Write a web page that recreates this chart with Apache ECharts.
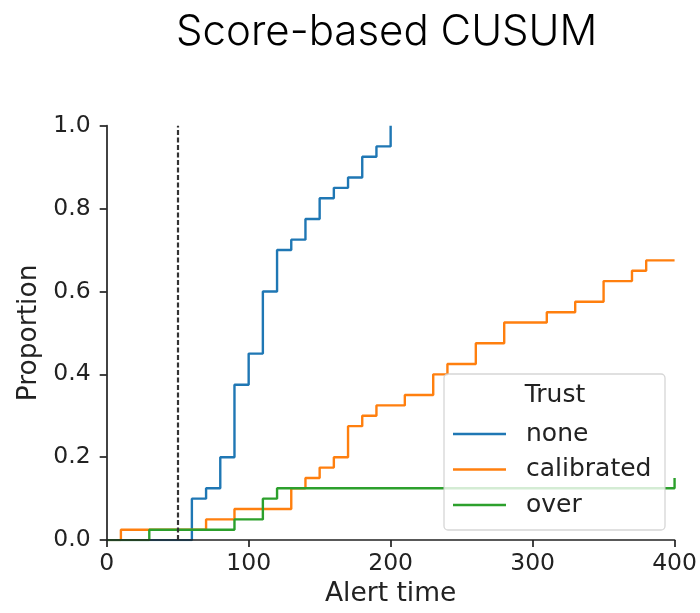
<!DOCTYPE html>
<html>
<head>
<meta charset="utf-8">
<script src="https://cdn.jsdelivr.net/npm/echarts@6/dist/echarts.min.js"></script>
<style>
  html, body { margin: 0; padding: 0; background: #ffffff; }
  #chart { width: 700px; height: 613px; }
</style>
</head>
<body>
<div id="chart"></div>
<script>
// ECDF of alert times per trust condition (step points: time, cumulative proportion)
const noneTimes = [60, 70, 80, 90, 100, 110, 120, 130, 140, 150, 160, 170, 180, 190, 200];
const noneProp  = [0.1, 0.125, 0.2, 0.375, 0.45, 0.6, 0.7, 0.725, 0.775, 0.825, 0.85, 0.875, 0.925, 0.95, 1.0];

const calibratedTimes = [10, 70, 90, 130, 140, 150, 160, 170, 180, 190, 210, 230, 240, 260, 280, 310, 330, 350, 370, 380, 400];
const calibratedProp  = [0.025, 0.05, 0.075, 0.125, 0.15, 0.175, 0.2, 0.275, 0.3, 0.325, 0.35, 0.4, 0.425, 0.475, 0.525, 0.55, 0.575, 0.625, 0.65, 0.675, 0.675];

const overTimes = [30, 90, 110, 120, 400];
const overProp  = [0.025, 0.05, 0.1, 0.125, 0.15];

const changePoint = 50;            // dashed reference line
const xTicks = [0, 100, 200, 300, 400];
const yTicks = [0.0, 0.2, 0.4, 0.6, 0.8, 1.0];

const seriesNames = ['none', 'calibrated', 'over'];
const colors = ['#1f77b4', '#ff7f0e', '#2ca02c'];

// ECDF starts at zero from the left edge of the axis
function ecdf(times, props) {
  const pts = [[xTicks[0], 0]];
  for (let i = 0; i < times.length; i++) pts.push([times[i], props[i]]);
  return pts;
}

const tickFont = 'DejaVu Sans';
const ink = '#222222';

const chart = echarts.init(document.getElementById('chart'), null, { renderer: 'canvas' });

const makeSeries = (name, data, color, extra) => Object.assign({
  name: name,
  type: 'line',
  step: 'end',
  data: data,
  showSymbol: false,
  symbol: 'none',
  color: color,
  lineStyle: { color: color, width: 2.4 },
  z: 2,
  animation: false
}, extra || {});

chart.setOption({
  animation: false,
  title: {
    text: 'Score-based CUSUM',
    left: 176,
    top: 11,
    padding: 0,
    textStyle: { fontFamily: 'Inter', fontWeight: 300, fontSize: 42, color: '#000000' }
  },
  grid: { left: 106.7, right: 23.3, top: 125.7, bottom: 69.7, containLabel: false },
  xAxis: {
    type: 'value',
    min: xTicks[0],
    max: xTicks[xTicks.length - 1],
    interval: 100,
    z: 5,
    name: 'Alert time',
    nameLocation: 'middle',
    nameGap: 40,
    nameTextStyle: { fontFamily: tickFont, fontSize: 26.5, color: ink },
    axisLine: { show: true, onZero: false, lineStyle: { color: ink, width: 1.7 } },
    axisTick: { show: true, length: 7, inside: false, lineStyle: { color: ink, width: 1.7 } },
    axisLabel: { margin: 12, fontFamily: tickFont, fontSize: 23.5, color: ink },
    splitLine: { show: false }
  },
  yAxis: {
    type: 'value',
    min: yTicks[0],
    max: yTicks[yTicks.length - 1],
    interval: 0.2,
    z: 5,
    name: 'Proportion',
    nameLocation: 'middle',
    nameGap: 61,
    nameTextStyle: { fontFamily: tickFont, fontSize: 26.5, color: ink },
    axisLine: { show: true, onZero: false, lineStyle: { color: ink, width: 1.7 } },
    axisTick: { show: true, length: 7, inside: false, lineStyle: { color: ink, width: 1.7 } },
    axisLabel: {
      margin: 16, fontFamily: tickFont, fontSize: 23.5, color: ink,
      formatter: v => v.toFixed(1)
    },
    splitLine: { show: false }
  },
  legend: {
    data: seriesNames,
    orient: 'vertical',
    left: 453,
    top: 421.5,
    padding: 0,
    itemGap: 10.5,
    itemWidth: 53,
    itemHeight: 2.4,
    icon: 'rect',
    z: 60,
    selectedMode: false,
    textStyle: { fontFamily: tickFont, fontSize: 25, color: ink, lineHeight: 25, padding: [0, 0, 0, 15] }
  },
  graphic: [
    {
      type: 'rect',
      z: 50,
      shape: { x: 444, y: 374, width: 221, height: 156, r: 4 },
      style: { fill: 'rgba(255,255,255,0.8)', stroke: 'rgba(204,204,204,0.8)', lineWidth: 1.3 }
    },
    {
      type: 'text',
      z: 60,
      x: 555,
      y: 395,
      style: {
        text: 'Trust', fontFamily: tickFont, fontSize: 25, fill: ink,
        align: 'center', verticalAlign: 'middle'
      }
    }
  ],
  series: [
    makeSeries(seriesNames[0], ecdf(noneTimes, noneProp), colors[0], {
      markLine: {
        silent: true,
        symbol: 'none',
        label: { show: false },
        lineStyle: { color: '#333333', type: [5, 2.5], width: 2.2 },
        data: [{ xAxis: changePoint }]
      }
    }),
    makeSeries(seriesNames[1], ecdf(calibratedTimes, calibratedProp), colors[1]),
    makeSeries(seriesNames[2], ecdf(overTimes, overProp), colors[2])
  ]
});
</script>
</body>
</html>
